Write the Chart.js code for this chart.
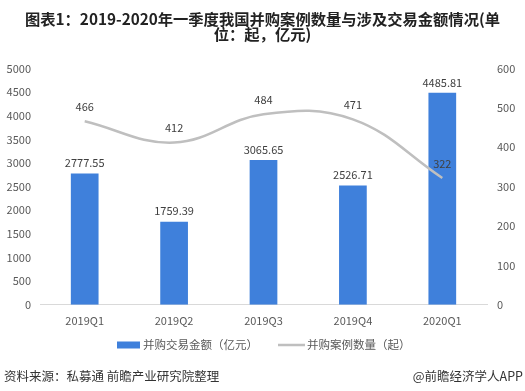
<!DOCTYPE html>
<html>
<head>
<meta charset="utf-8">
<script src="https://cdn.jsdelivr.net/npm/chart.js@4/dist/chart.umd.min.js"></script>
<style>
  html, body { margin: 0; padding: 0; background: #fff; }
  #wrap { width: 525px; height: 391px; position: relative; }
</style>
</head>
<body>
<div id="wrap"><canvas id="myChart" width="525" height="391"></canvas></div>
<script>
const quarters = ['2019Q1', '2019Q2', '2019Q3', '2019Q4', '2020Q1'];
const amounts = [2777.55, 1759.39, 3065.65, 2526.71, 4485.81];
const cases = [466, 412, 484, 471, 322];
const leftTicks = [0, 500, 1000, 1500, 2000, 2500, 3000, 3500, 4000, 4500, 5000];
const rightTicks = [0, 100, 200, 300, 400, 500, 600];
const seriesNames = ['并购交易金额（亿元）', '并购案例数量（起）'];

const FONT = "'Microsoft YaHei', 'Noto Sans CJK SC', sans-serif";
const BLUE = '#3f80db';
const GREY = '#bfbfbf';

// labels over bars and points, legend, footer text
const labelPlugin = {
  id: 'labels',
  afterDatasetsDraw(chart) {
    const c = chart.ctx;
    c.save();
    c.font = '11px ' + FONT;
    c.fillStyle = '#404040';
    c.textAlign = 'center';
    c.textBaseline = 'bottom';
    chart.getDatasetMeta(0).data.forEach((el, i) => {
      c.fillText(amounts[i].toFixed(2), el.x, el.y - 5);
    });
    chart.getDatasetMeta(1).data.forEach((el, i) => {
      c.fillText(String(cases[i]), el.x, el.y - 9);
    });

    // legend
    const ly = 345;
    c.font = '11.5px ' + FONT;
    c.textAlign = 'left';
    c.textBaseline = 'middle';
    c.fillStyle = BLUE;
    c.fillRect(117, ly - 3.5, 23, 7);
    c.fillStyle = '#595959';
    c.fillText(seriesNames[0], 143, ly);
    c.strokeStyle = GREY;
    c.lineWidth = 2.5;
    c.beginPath();
    c.moveTo(278, ly);
    c.lineTo(305, ly);
    c.stroke();
    c.fillText(seriesNames[1], 307, ly);

    c.font = '12.5px ' + FONT;
    c.fillStyle = '#333';
    c.textAlign = 'left';
    c.fillText('资料来源：私募通 前瞻产业研究院整理', 4, 376);
    c.textAlign = 'right';
    c.fillText('@前瞻经济学人APP', 523, 376);
    c.restore();
  }
};

const ctx = document.getElementById('myChart').getContext('2d');
const data = {
  labels: quarters,
  datasets: [
    {
      type: 'bar',
      label: seriesNames[0],
      data: amounts,
      backgroundColor: BLUE,
      yAxisID: 'y',
      barPercentage: 0.62,
      categoryPercentage: 0.5,
      order: 2,
    },
    {
      type: 'line',
      label: seriesNames[1],
      data: cases,
      borderColor: GREY,
      backgroundColor: GREY,
      borderWidth: 2.5,
      pointRadius: 0,
      tension: 0.4,
      yAxisID: 'y1',
      order: 1,
    },
  ],
};

Chart.defaults.color = '#595959';
Chart.defaults.font.family = FONT;

const plain = v => String(v);

const config = {
  data: data,
  options: {
    responsive: false,
    animation: false,
    layout: { padding: { left: 0, right: 0, top: 0, bottom: 55 } },
    plugins: {
      title: {
        display: true,
        text: ['图表1：2019-2020年一季度我国并购案例数量与涉及交易金额情况(单', '位：起，亿元)'],
        color: '#222',
        font: { size: 15.3, weight: 'bold', family: FONT, lineHeight: 1.03 },
        padding: { top: 11, bottom: 26 },
      },
      legend: { display: false },
      tooltip: { enabled: false },
    },
    scales: {
      x: {
        grid: { display: false, drawTicks: false },
        border: { color: '#d9d9d9', width: 1 },
        ticks: { font: { size: 11 }, padding: 9, color: '#595959' },
      },
      y: {
        position: 'left',
        min: 0,
        max: 5000,
        afterBuildTicks(axis) { axis.ticks = leftTicks.map(v => ({ value: v })); },
        afterFit(axis) { axis.width = 40; },
        grid: { display: false, drawTicks: false },
        border: { display: false },
        ticks: { font: { size: 11 }, padding: 9, color: '#595959', callback: plain },
      },
      y1: {
        position: 'right',
        min: 0,
        max: 600,
        afterBuildTicks(axis) { axis.ticks = rightTicks.map(v => ({ value: v })); },
        afterFit(axis) { axis.width = 38; },
        grid: { display: false, drawTicks: false },
        border: { display: false },
        ticks: { font: { size: 11 }, padding: 10, color: '#595959', callback: plain },
      },
    },
  },
  plugins: [labelPlugin],
};

const mixedChart = new Chart(ctx, config);
</script>
</body>
</html>
